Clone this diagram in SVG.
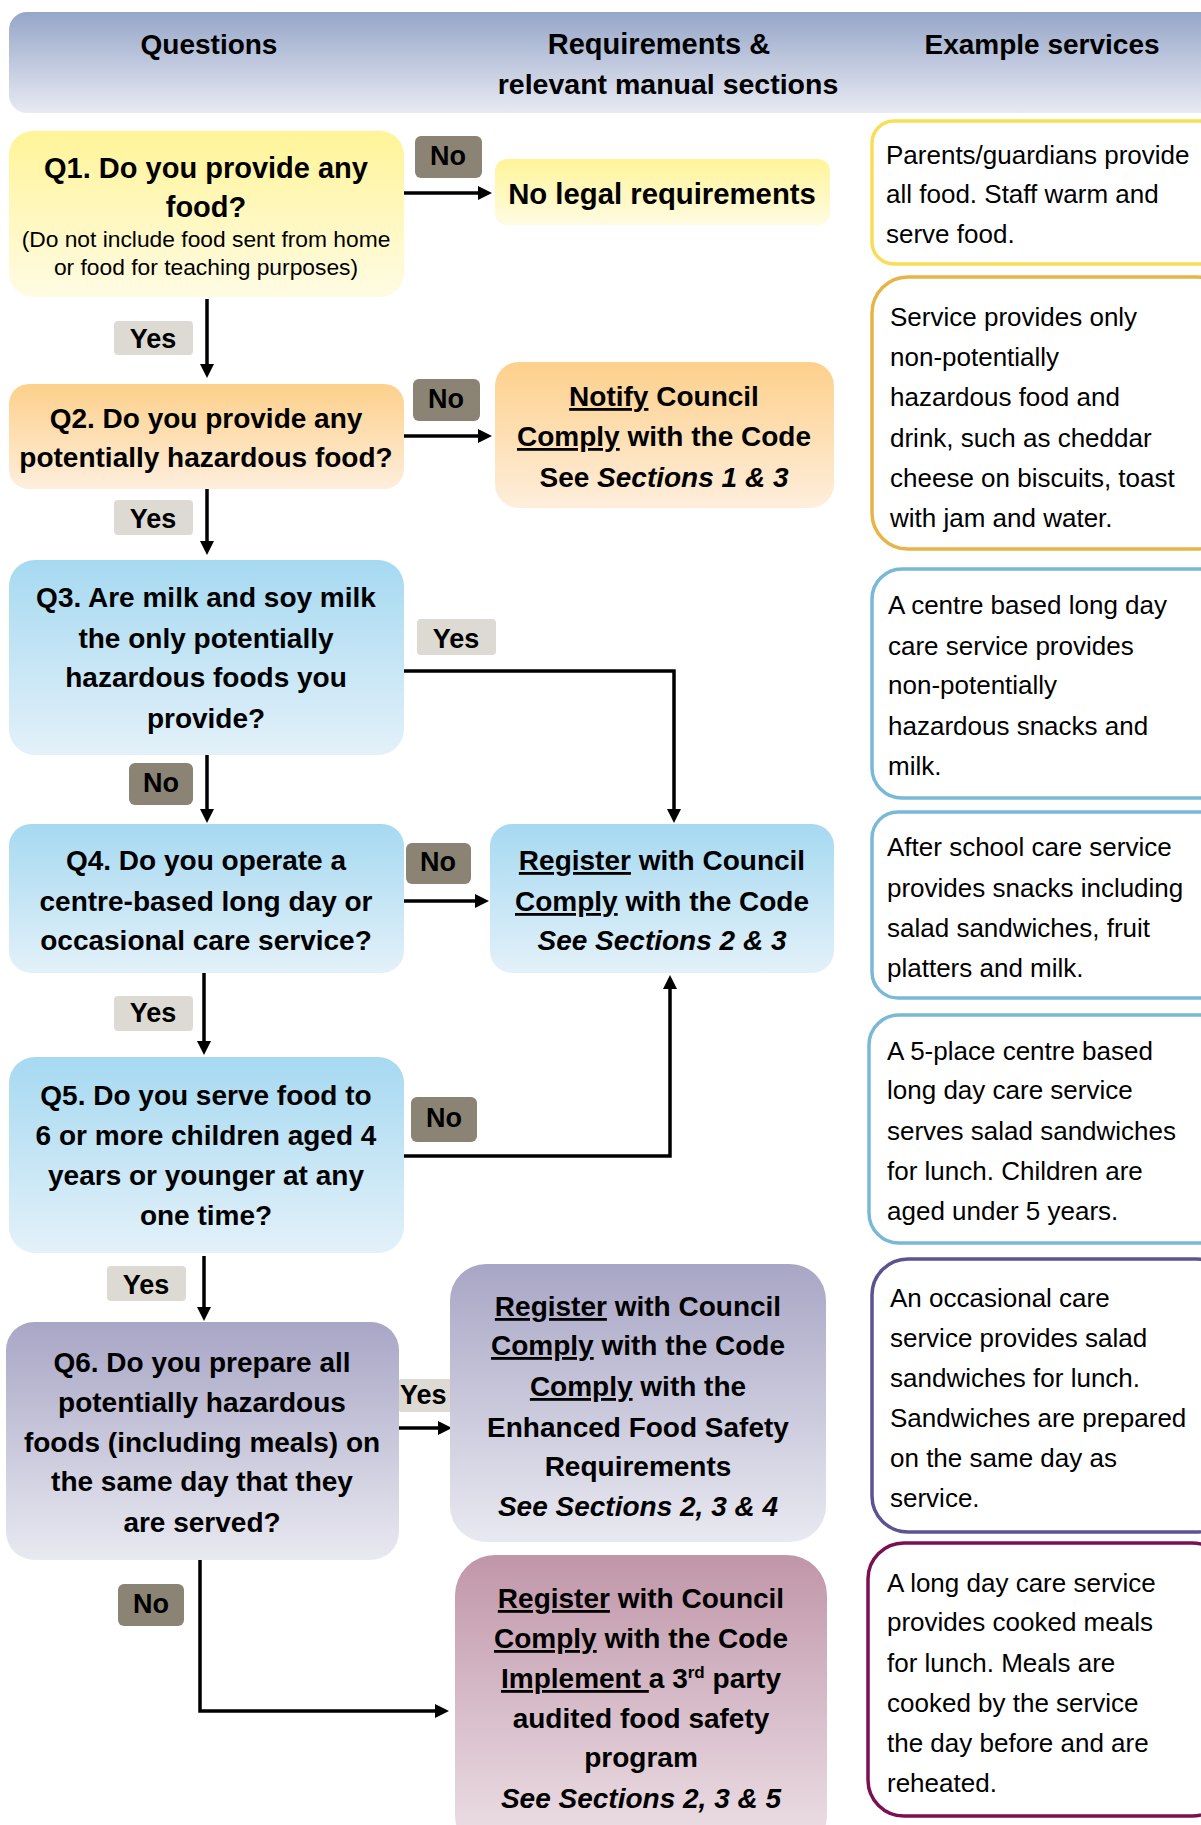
<svg xmlns="http://www.w3.org/2000/svg" width="1201" height="1825" viewBox="0 0 1201 1825">
<style>
text{font-family:"Liberation Sans",Arial,sans-serif;fill:#000}
.q{font-weight:bold;font-size:28px;text-anchor:middle}
.s{font-size:22.8px;text-anchor:middle}
.ex{font-size:26px}
.lbl{font-weight:bold;font-size:27px;text-anchor:middle}
.u{text-decoration:underline}
.it{font-style:italic}
.conn{fill:none;stroke:#000;stroke-width:3.5}
.no{fill:#8b8474}
.yes{fill:#dddad3}
.exbox{fill:#fff;stroke-width:3.5}
</style>
<defs>
<linearGradient id="gHead" x1="0" y1="0" x2="0" y2="1"><stop offset="0" stop-color="#96a6c8"/><stop offset="1" stop-color="#e8eaf3"/></linearGradient>
<linearGradient id="gYel" x1="0" y1="0" x2="0" y2="1"><stop offset="0" stop-color="#fff498"/><stop offset="1" stop-color="#fffbe3"/></linearGradient>
<linearGradient id="gOra" x1="0" y1="0" x2="0" y2="1"><stop offset="0" stop-color="#fdd08b"/><stop offset="1" stop-color="#feeedc"/></linearGradient>
<linearGradient id="gBlu" x1="0" y1="0" x2="0" y2="1"><stop offset="0" stop-color="#a6d9f1"/><stop offset="1" stop-color="#e3f1f9"/></linearGradient>
<linearGradient id="gPur" x1="0" y1="0" x2="0" y2="1"><stop offset="0" stop-color="#a8a6c5"/><stop offset="1" stop-color="#e9e9f1"/></linearGradient>
<linearGradient id="gMau" x1="0" y1="0" x2="0" y2="1"><stop offset="0" stop-color="#c096a9"/><stop offset="1" stop-color="#eee2e8"/></linearGradient>
<marker id="arr" markerUnits="userSpaceOnUse" markerWidth="14" markerHeight="14" refX="3" refY="7" orient="auto"><path d="M0,0 L14,7 L0,14 z" fill="#000"/></marker>
</defs>
<rect width="1201" height="1825" fill="#fff"/>

<g id="header">
<rect x="9" y="12" width="1240" height="101" rx="18" fill="url(#gHead)"/>
<text class="q" x="209" y="54">Questions</text>
<text class="q" x="659" y="54" style="font-size:29px">Requirements &amp;</text>
<text class="q" x="668" y="94" style="font-size:28.5px">relevant manual sections</text>
<text class="q" x="1042" y="54">Example services</text>
</g>

<g id="connectors">
<path class="conn" d="M404 193 H481" marker-end="url(#arr)"/>
<path class="conn" d="M207 299 V367" marker-end="url(#arr)"/>
<path class="conn" d="M404 436 H481" marker-end="url(#arr)"/>
<path class="conn" d="M207 489 V544" marker-end="url(#arr)"/>
<path class="conn" d="M404 671 H674 V812" marker-end="url(#arr)"/>
<path class="conn" d="M207 755 V812" marker-end="url(#arr)"/>
<path class="conn" d="M404 901 H478" marker-end="url(#arr)"/>
<path class="conn" d="M204 973 V1044" marker-end="url(#arr)"/>
<path class="conn" d="M404 1156 H670 V986" marker-end="url(#arr)"/>
<path class="conn" d="M204 1256 V1310" marker-end="url(#arr)"/>
<path class="conn" d="M399 1428 H441" marker-end="url(#arr)"/>
<path class="conn" d="M200 1560 V1711 H438" marker-end="url(#arr)"/>
</g>

<g id="labels">
<g id="lbl-q1-no"><rect class="no" x="415" y="136" width="67" height="42" rx="6"/><text class="lbl" x="448" y="165">No</text></g>
<g id="lbl-q1-yes"><rect class="yes" x="114" y="321" width="79" height="34" rx="4"/><text class="lbl" x="153" y="348">Yes</text></g>
<g id="lbl-q2-no"><rect class="no" x="413" y="379" width="67" height="42" rx="6"/><text class="lbl" x="446" y="408">No</text></g>
<g id="lbl-q2-yes"><rect class="yes" x="114" y="500" width="79" height="35" rx="4"/><text class="lbl" x="153" y="528">Yes</text></g>
<g id="lbl-q3-yes"><rect class="yes" x="417" y="619" width="79" height="36" rx="4"/><text class="lbl" x="456" y="648">Yes</text></g>
<g id="lbl-q3-no"><rect class="no" x="129" y="763" width="64" height="42" rx="6"/><text class="lbl" x="161" y="792">No</text></g>
<g id="lbl-q4-no"><rect class="no" x="406" y="843" width="65" height="41" rx="6"/><text class="lbl" x="438" y="871">No</text></g>
<g id="lbl-q4-yes"><rect class="yes" x="114" y="996" width="79" height="35" rx="4"/><text class="lbl" x="153" y="1022">Yes</text></g>
<g id="lbl-q5-no"><rect class="no" x="411" y="1097" width="66" height="45" rx="6"/><text class="lbl" x="444" y="1127">No</text></g>
<g id="lbl-q5-yes"><rect class="yes" x="107" y="1266" width="79" height="35" rx="4"/><text class="lbl" x="146" y="1294">Yes</text></g>
<g id="lbl-q6-yes"><rect class="yes" x="399" y="1379" width="56" height="33" rx="2"/><text class="lbl" x="400" y="1404" style="text-anchor:start">Yes</text></g>
<g id="lbl-q6-no"><rect class="no" x="118" y="1584" width="66" height="42" rx="6"/><text class="lbl" x="151" y="1613">No</text></g>
</g>

<g id="q1">
<rect x="9" y="131" width="395" height="166" rx="24" fill="url(#gYel)"/>
<text class="q" x="206" y="178" style="font-size:29px">Q1. Do you provide any</text>
<text class="q" x="206" y="217" style="font-size:29px">food?</text>
<text class="s" x="206" y="247">(Do not include food sent from home</text>
<text class="s" x="206" y="275">or food for teaching purposes)</text>
</g>
<g id="r-none">
<rect x="495" y="159" width="335" height="66" rx="12" fill="url(#gYel)"/>
<text class="q" x="662" y="204" style="font-size:29.3px">No legal requirements</text>
</g>

<g id="q2">
<rect x="9" y="384" width="395" height="105" rx="20" fill="url(#gOra)"/>
<text class="q" x="206" y="428">Q2. Do you provide any</text>
<text class="q" x="206" y="467">potentially hazardous food?</text>
</g>
<g id="r-notify">
<rect x="495" y="362" width="339" height="146" rx="24" fill="url(#gOra)"/>
<text class="q" x="664" y="406"><tspan class="u">Notify</tspan> Council</text>
<text class="q" x="664" y="446"><tspan class="u">Comply</tspan> with the Code</text>
<text class="q" x="664" y="487">See <tspan class="it">Sections 1 &amp; 3</tspan></text>
</g>

<g id="q3">
<rect x="9" y="560" width="395" height="195" rx="26" fill="url(#gBlu)"/>
<text class="q" x="206" y="607">Q3. Are milk and soy milk</text>
<text class="q" x="206" y="648">the only potentially</text>
<text class="q" x="206" y="687">hazardous foods you</text>
<text class="q" x="206" y="728">provide?</text>
</g>

<g id="q4">
<rect x="9" y="824" width="395" height="149" rx="22" fill="url(#gBlu)"/>
<text class="q" x="206" y="870">Q4. Do you operate a</text>
<text class="q" x="206" y="911">centre-based long day or</text>
<text class="q" x="206" y="950">occasional care service?</text>
</g>
<g id="r-register">
<rect x="490" y="824" width="344" height="149" rx="22" fill="url(#gBlu)"/>
<text class="q" x="662" y="870"><tspan class="u">Register</tspan> with Council</text>
<text class="q" x="662" y="911"><tspan class="u">Comply</tspan> with the Code</text>
<text class="q it" x="662" y="950">See Sections 2 &amp; 3</text>
</g>

<g id="q5">
<rect x="9" y="1057" width="395" height="196" rx="26" fill="url(#gBlu)"/>
<text class="q" x="206" y="1105">Q5. Do you serve food to</text>
<text class="q" x="206" y="1145">6 or more children aged 4</text>
<text class="q" x="206" y="1185">years or younger at any</text>
<text class="q" x="206" y="1225">one time?</text>
</g>

<g id="q6">
<rect x="6" y="1322" width="393" height="238" rx="28" fill="url(#gPur)"/>
<text class="q" x="202" y="1372">Q6. Do you prepare all</text>
<text class="q" x="202" y="1412">potentially hazardous</text>
<text class="q" x="202" y="1452">foods (including meals) on</text>
<text class="q" x="202" y="1491">the same day that they</text>
<text class="q" x="202" y="1532">are served?</text>
</g>
<g id="r-enhanced">
<rect x="450" y="1264" width="376" height="278" rx="36" fill="url(#gPur)"/>
<text class="q" x="638" y="1316"><tspan class="u">Register</tspan> with Council</text>
<text class="q" x="638" y="1355"><tspan class="u">Comply</tspan> with the Code</text>
<text class="q" x="638" y="1396"><tspan class="u">Comply</tspan> with the</text>
<text class="q" x="638" y="1437">Enhanced Food Safety</text>
<text class="q" x="638" y="1476">Requirements</text>
<text class="q it" x="638" y="1516">See Sections 2, 3 &amp; 4</text>
</g>
<g id="r-audit">
<rect x="455" y="1555" width="372" height="300" rx="40" fill="url(#gMau)"/>
<text class="q" x="641" y="1608"><tspan class="u">Register</tspan> with Council</text>
<text class="q" x="641" y="1648"><tspan class="u">Comply</tspan> with the Code</text>
<text class="q" x="641" y="1688"><tspan class="u">Implement </tspan>a 3<tspan font-size="17" dy="-10">rd</tspan><tspan dy="10"> party</tspan></text>
<text class="q" x="641" y="1728">audited food safety</text>
<text class="q" x="641" y="1767">program</text>
<text class="q it" x="641" y="1808">See Sections 2, 3 &amp; 5</text>
</g>

<g id="ex1">
<rect class="exbox" x="872" y="121" width="360" height="143" rx="22" stroke="#f7de55"/>
<text class="ex" x="886" y="164">Parents/guardians provide</text>
<text class="ex" x="886" y="203">all food. Staff warm and</text>
<text class="ex" x="886" y="243">serve food.</text>
</g>
<g id="ex2">
<rect class="exbox" x="872" y="277" width="360" height="272" rx="36" stroke="#e8b347"/>
<text class="ex" x="890" y="326">Service provides only</text>
<text class="ex" x="890" y="366">non-potentially</text>
<text class="ex" x="890" y="406">hazardous food and</text>
<text class="ex" x="890" y="447">drink, such as cheddar</text>
<text class="ex" x="890" y="487">cheese on biscuits, toast</text>
<text class="ex" x="890" y="527">with jam and water.</text>
</g>
<g id="ex3">
<rect class="exbox" x="872" y="569" width="360" height="229" rx="30" stroke="#7ab9d6"/>
<text class="ex" x="888" y="614">A centre based long day</text>
<text class="ex" x="888" y="655">care service provides</text>
<text class="ex" x="888" y="694">non-potentially</text>
<text class="ex" x="888" y="735">hazardous snacks and</text>
<text class="ex" x="888" y="775">milk.</text>
</g>
<g id="ex4">
<rect class="exbox" x="872" y="812" width="360" height="186" rx="26" stroke="#7ab9d6"/>
<text class="ex" x="887" y="856">After school care service</text>
<text class="ex" x="887" y="897">provides snacks including</text>
<text class="ex" x="887" y="937">salad sandwiches, fruit</text>
<text class="ex" x="887" y="977">platters and milk.</text>
</g>
<g id="ex5">
<rect class="exbox" x="869" y="1015" width="360" height="228" rx="30" stroke="#7ab9d6"/>
<text class="ex" x="887" y="1060">A 5-place centre based</text>
<text class="ex" x="887" y="1099">long day care service</text>
<text class="ex" x="887" y="1140">serves salad sandwiches</text>
<text class="ex" x="887" y="1180">for lunch. Children are</text>
<text class="ex" x="887" y="1220">aged under 5 years.</text>
</g>
<g id="ex6">
<rect class="exbox" x="872" y="1259" width="360" height="273" rx="36" stroke="#5b5490"/>
<text class="ex" x="890" y="1307">An occasional care</text>
<text class="ex" x="890" y="1347">service provides salad</text>
<text class="ex" x="890" y="1387">sandwiches for lunch.</text>
<text class="ex" x="890" y="1427">Sandwiches are prepared</text>
<text class="ex" x="890" y="1467">on the same day as</text>
<text class="ex" x="890" y="1507">service.</text>
</g>
<g id="ex7">
<rect class="exbox" x="868" y="1543" width="360" height="273" rx="36" stroke="#7b0f52"/>
<text class="ex" x="887" y="1592">A long day care service</text>
<text class="ex" x="887" y="1631">provides cooked meals</text>
<text class="ex" x="887" y="1672">for lunch. Meals are</text>
<text class="ex" x="887" y="1712">cooked by the service</text>
<text class="ex" x="887" y="1752">the day before and are</text>
<text class="ex" x="887" y="1792">reheated.</text>
</g>
</svg>
